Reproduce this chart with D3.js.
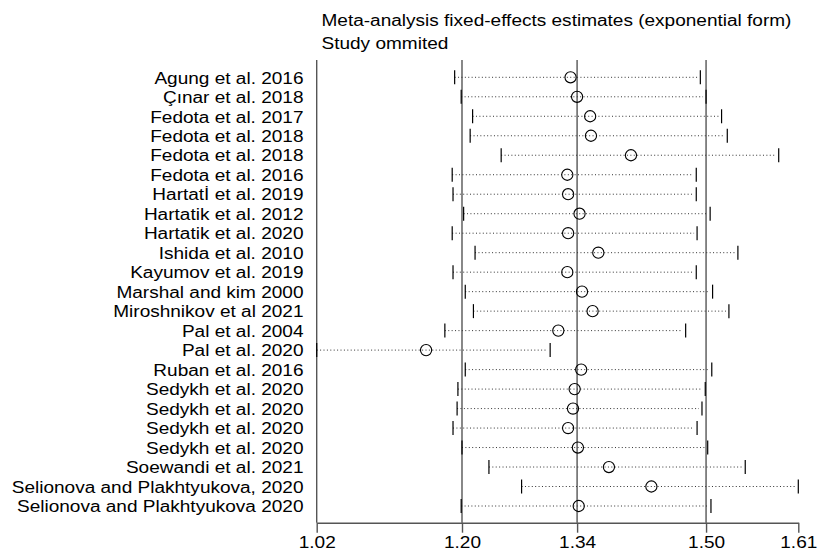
<!DOCTYPE html>
<html>
<head>
<meta charset="utf-8">
<script src="https://cdn.jsdelivr.net/npm/d3@7"></script>
<style>
  body { margin: 0; background: #fff; }
  text { font-family: "Liberation Sans", Arial, sans-serif; fill: #000; }
</style>
</head>
<body>
<div id="chart"></div>
<script>
// study omitted, estimate and 95% CI (exponential form)
const studies = [
  "Agung et al. 2016", "Çınar et al. 2018", "Fedota et al. 2017", "Fedota et al. 2018",
  "Fedota et al. 2018", "Fedota et al. 2016", "Hartatİ et al. 2019", "Hartatik et al. 2012",
  "Hartatik et al. 2020", "Ishida et al. 2010", "Kayumov et al. 2019", "Marshal and kim 2000",
  "Miroshnikov et al 2021", "Pal et al. 2004", "Pal et al. 2020", "Ruban et al. 2016",
  "Sedykh et al. 2020", "Sedykh et al. 2020", "Sedykh et al. 2020", "Sedykh et al. 2020",
  "Soewandi et al. 2021", "Selionova and Plakhtyukova, 2020", "Selionova and Plakhtyukova 2020"
];
const estimate = [1.331, 1.339, 1.355, 1.356, 1.405, 1.327, 1.328, 1.342, 1.328, 1.365, 1.327, 1.345,
  1.358, 1.316, 1.154, 1.344, 1.336, 1.334, 1.328, 1.340, 1.378, 1.430, 1.341];
const lower = [1.189, 1.197, 1.211, 1.208, 1.246, 1.186, 1.187, 1.200, 1.186, 1.214, 1.187, 1.202,
  1.212, 1.177, 1.020, 1.202, 1.193, 1.192, 1.187, 1.198, 1.231, 1.271, 1.197];
const upper = [1.490, 1.497, 1.516, 1.523, 1.586, 1.485, 1.485, 1.502, 1.486, 1.536, 1.485, 1.505,
  1.525, 1.472, 1.306, 1.504, 1.496, 1.492, 1.486, 1.499, 1.545, 1.610, 1.503];
// overall estimate lines: lower CI, estimate, upper CI
const overall = [1.198, 1.339, 1.497];
const tickValues = [1.02, 1.198, 1.339, 1.497, 1.61];
const titleLines = ["Meta-analysis fixed-effects estimates (exponential form)", "Study ommited"];

const width = 827, height = 553;
const stretch = "scale(1.1,1)"; // the original graph's text is slightly wide

const svg = d3.select("#chart").append("svg")
  .attr("width", width).attr("height", height);

const x = d3.scaleLinear().domain([1.02, 1.61]).range([316.7, 798.3]);
const y = d3.scalePoint().domain(d3.range(studies.length)).range([77.3, 506]);
const plotTop = 60, plotBottom = 522.7;

// title
svg.append("g").selectAll("text")
  .data(titleLines)
  .enter().append("text")
  .attr("transform", (d, i) => `translate(321.5,${25.7 + i * 23.3}) ${stretch}`)
  .attr("font-size", "17.3px")
  .text(d => d);

// left axis line
svg.append("line")
  .attr("x1", x(1.02)).attr("x2", x(1.02))
  .attr("y1", plotTop).attr("y2", plotBottom)
  .attr("stroke", "#555").attr("stroke-width", 1.4);

// overall reference lines
svg.append("g").selectAll("line")
  .data(overall)
  .enter().append("line")
  .attr("x1", d => x(d)).attr("x2", d => x(d))
  .attr("y1", plotTop).attr("y2", plotBottom)
  .attr("stroke", "#555").attr("stroke-width", 1.4);

// x axis
const xAxis = d3.axisBottom(x)
  .tickValues(tickValues)
  .tickFormat(d3.format(".2f"))
  .tickSize(10)
  .tickSizeOuter(0);
const gx = svg.append("g")
  .attr("transform", `translate(0,${plotBottom})`)
  .call(xAxis);
gx.select(".domain").attr("stroke", "#555").attr("stroke-width", 1.4);
gx.selectAll(".tick line").attr("stroke", "#555").attr("stroke-width", 1.4);
gx.selectAll(".tick text")
  .attr("y", 13)
  .attr("transform", stretch)
  .attr("font-size", "17.3px")
  .attr("font-family", "Liberation Sans, Arial, sans-serif")
  .attr("fill", "#000");

// study labels
svg.append("g").selectAll("text")
  .data(studies)
  .enter().append("text")
  .attr("transform", (d, i) => `translate(303.5,${y(i)}) ${stretch}`)
  .attr("dy", "0.36em")
  .attr("text-anchor", "end")
  .attr("font-size", "17.3px")
  .text(d => d);

const rows = svg.append("g").selectAll("g")
  .data(studies.map((s, i) => i))
  .enter().append("g");

// dotted CI lines
rows.append("line")
  .attr("x1", i => x(lower[i])).attr("x2", i => x(upper[i]) - 3)
  .attr("y1", i => y(i)).attr("y2", i => y(i))
  .attr("stroke", "#333").attr("stroke-width", 1)
  .attr("stroke-dasharray", "1,2.4");

// caps
rows.append("line")
  .attr("x1", i => x(lower[i])).attr("x2", i => x(lower[i]))
  .attr("y1", i => y(i) - 7).attr("y2", i => y(i) + 7)
  .attr("stroke", "#000").attr("stroke-width", 1.2);
rows.append("line")
  .attr("x1", i => x(upper[i])).attr("x2", i => x(upper[i]))
  .attr("y1", i => y(i) - 7).attr("y2", i => y(i) + 7)
  .attr("stroke", "#000").attr("stroke-width", 1.2);

// estimates
rows.append("circle")
  .attr("cx", i => x(estimate[i]))
  .attr("cy", i => y(i))
  .attr("r", 5.6)
  .attr("fill", "none")
  .attr("stroke", "#000")
  .attr("stroke-width", 1.1);
</script>
</body>
</html>
